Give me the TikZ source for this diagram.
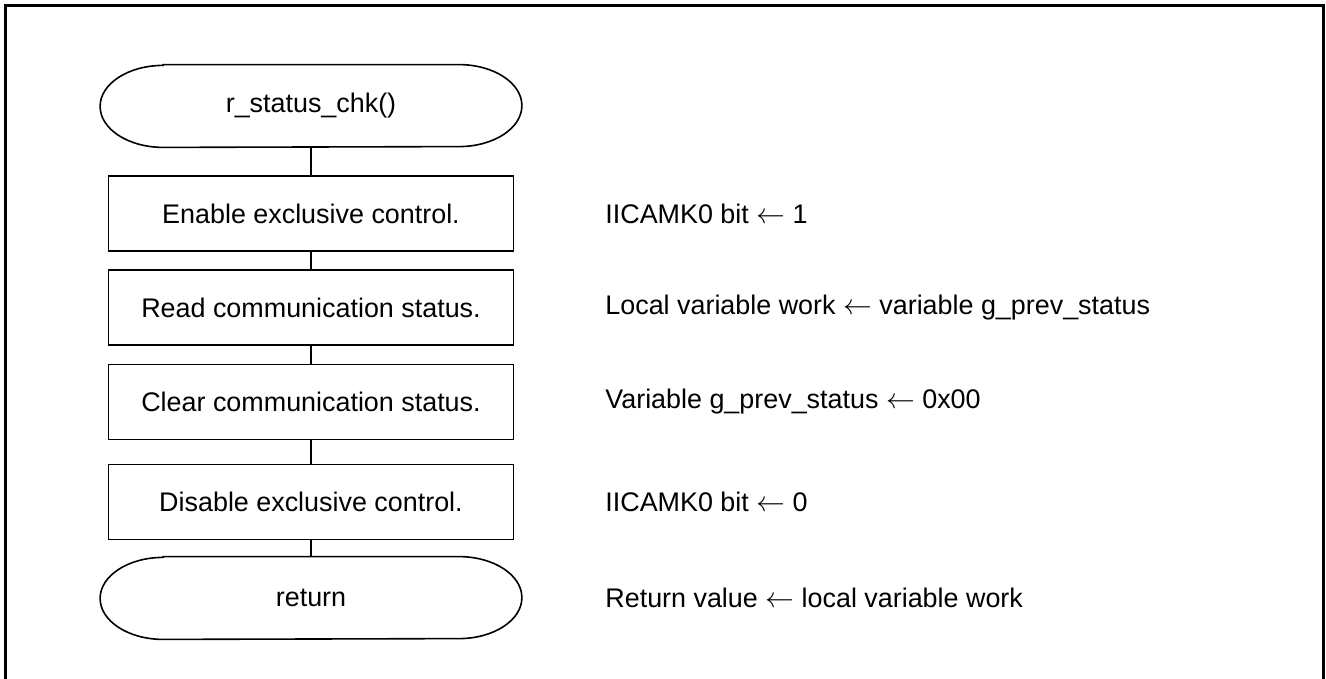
\documentclass[tikz,border=0pt]{standalone}
\usepackage{fontspec}
\setmainfont{Liberation Sans}
\usepackage{tikz}
\usetikzlibrary{arrows}
\tikzset{
  flowline/.style={line width=0.6pt},
  procbox/.style={draw, line width=0.8pt, minimum width=202.5pt, minimum height=37.5pt, inner sep=0pt},
  termbox/.style={minimum width=210.5pt, minimum height=41pt, inner sep=0pt},
  note/.style={anchor=west, inner sep=0pt}
}
% outline of a terminal node, with elliptic ends
\newcommand{\termline}[1]{%
  \draw[line width=0.8pt] ([xshift=31.5pt]#1.north west) -- ([xshift=-31.5pt]#1.north east)
    arc[start angle=90, end angle=-90, x radius=31.5pt, y radius=20.5pt]
    -- ([xshift=31.5pt]#1.south west)
    arc[start angle=270, end angle=90, x radius=31.5pt, y radius=20.5pt] -- cycle;}

\begin{document}
\begin{tikzpicture}[x=0.5pt, y=-0.5pt, font=\fontsize{13.45}{16}\selectfont]
\useasboundingbox (0,0) rectangle (1326,679);
\draw[line width=1.5pt] (5,679) -- (5,6) -- (1323,6) -- (1323,679);
%
\node[termbox](start) at (311,106) {r\_status\_chk()};
\termline{start}
\node[procbox](enable) at (311,213.5) {Enable exclusive control.};
\node[procbox](read) at (311,307.5) {Read communication status.};
\node[procbox](clear) at (311,402) {Clear communication status.};
\node[procbox](disable) at (311,502) {Disable exclusive control.};
\node[termbox](ret) at (311,598) {return};
\termline{ret}
%
\draw[flowline](start) -- (enable);
\draw[flowline](enable) -- (read);
\draw[flowline](read) -- (clear);
\draw[flowline](clear) -- (disable);
\draw[flowline](disable) -- (ret);
%
\node[note](enablenote) at (605,213.5) {IICAMK0 bit $\leftarrow$ 1};
\node[note](readnote) at (605,307.5) {Local variable work $\leftarrow$ variable g\_prev\_status};
\node[note](clearnote) at (605,402) {Variable g\_prev\_status $\leftarrow$ 0x00};
\node[note](disablenote) at (605,502) {IICAMK0 bit $\leftarrow$ 0};
\node[note](retnote) at (605,598) {Return value $\leftarrow$ local variable work};
\end{tikzpicture}
\end{document}
